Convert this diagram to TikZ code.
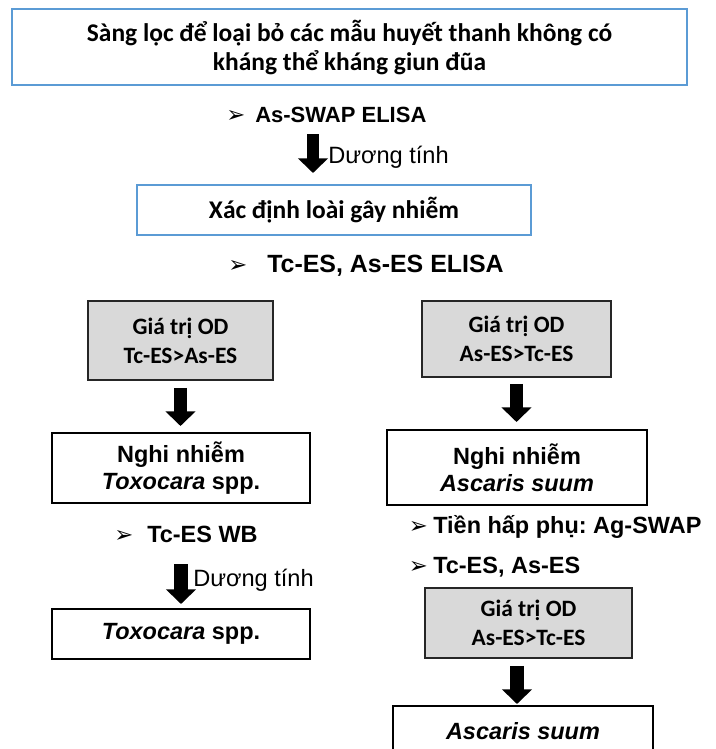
\documentclass[tikz,border=0pt]{standalone}
\usepackage{fontspec}
\setmainfont{Liberation Sans}
\newfontfamily\calfont{Carlito}
\newfontfamily\symfont{DejaVu Sans}
\usetikzlibrary{arrows.meta}
\frenchspacing

\newcommand*{\px}{0.75pt}
\newcommand*{\bul}{{\symfont\fontsize{17}{18}\selectfont ➢}}
\definecolor{boxblue}{RGB}{91,155,213}
\definecolor{boxgray}{RGB}{217,217,217}

\begin{document}
\begin{tikzpicture}
[
	x=\px, y=-\px,
	bluebox/.style={draw=boxblue,line width=1.5pt,inner sep=0pt,align=center,font=\calfont\bfseries\fontsize{19.1}{21.75}\selectfont},
	odbox/.style={draw=black!85,fill=boxgray,line width=1.2pt,inner sep=0pt,align=center,font=\calfont\bfseries\fontsize{17.6}{21.75}\selectfont},
	resbox/.style={draw=black,line width=1.5pt,inner sep=0pt,align=center,font=\bfseries\fontsize{17.6}{20.25}\selectfont},
	method/.style={anchor=base west,inner sep=0pt,font=\bfseries\fontsize{17.6}{20}\selectfont},
	posnote/.style={anchor=base west,inner sep=0pt,font=\fontsize{17.7}{20}\selectfont},
	fatarrow/.style={line width=10pt,-{Triangle[width=22pt,length=11pt]}}
]

	\useasboundingbox (0,0) rectangle (716,749);
	\clip (0,0) rectangle (716,749);

	% screening
	\node[bluebox,minimum width=675*\px,minimum height=76*\px] (screen) at (349.5,47)
		{Sàng lọc để loại bỏ các mẫu huyết thanh không có\\kháng thể kháng giun đũa};
	\node[method,font=\bfseries\fontsize{16.5}{20}\selectfont] (swap) at (255,122)
		{\llap{\bul\hspace{7.5pt}}As-SWAP ELISA};
	\coordinate (a1) at (313,134);
	\draw[fatarrow,line width=8.5pt,shorten >=12*\px] (a1) -- (a1 |- 0,185);
	\node[posnote] (pos1) at (328,163) {Dương tính};

	% species
	\node[bluebox,minimum width=394*\px,minimum height=50*\px] (species) at (334,210)
		{Xác định loài gây nhiễm};
	\node[method,font=\bfseries\fontsize{18.7}{20}\selectfont] (elisa) at (267,272)
		{\llap{\bul\hspace{15pt}}Tc-ES, As-ES ELISA};

	% left branch
	\node[odbox,minimum width=185*\px,minimum height=79*\px] (odtc) at (180.5,340.5)
		{Giá trị OD\\Tc-ES>As-ES};
	\node[resbox,minimum width=258*\px,minimum height=70*\px] (suspt) at (181,468)
		{Nghi nhiễm\\\textit{Toxocara} spp.};
	\draw[fatarrow,shorten <=7*\px,shorten >=6*\px] (odtc.south) -- (odtc.south |- suspt.north);
	\node[method] (wb) at (147,542) {\llap{\bul\hspace{10.5pt}}Tc-ES WB};
	\coordinate (a2) at (181,564);
	\draw[fatarrow,shorten >=5*\px] (a2) -- (a2 |- 0,609);
	\node[posnote] (pos2) at (193,586) {Dương tính};
	\node[resbox,minimum width=258*\px,minimum height=50*\px] (toxo) at (181,634)
		{\textit{Toxocara} spp.};

	% right branch
	\node[odbox,minimum width=189*\px,minimum height=76*\px] (odas) at (516.5,339)
		{Giá trị OD\\As-ES>Tc-ES};
	\node[resbox,minimum width=260*\px,minimum height=75*\px] (suspa) at (517,467.5)
		{Nghi nhiễm\\\textit{Ascaris suum}};
	\draw[fatarrow,shorten <=6*\px,shorten >=7*\px] (odas.south) -- (odas.south |- suspa.north);
	\node[method] (preab) at (433,533) {\llap{\bul\hspace{4pt}}Tiền hấp phụ: Ag-SWAP};
	\node[method] (tcas) at (433,573) {\llap{\bul\hspace{4pt}}Tc-ES, As-ES};
	\node[odbox,minimum width=207*\px,minimum height=70*\px] (odas2) at (528.5,623)
		{Giá trị OD\\As-ES>Tc-ES};
	\node[resbox,minimum width=260*\px,minimum height=50*\px] (ascaris) at (523,731)
		{\textit{Ascaris suum}};
	\coordinate (a3) at (517,0);
	\draw[fatarrow,shorten <=7*\px,shorten >=1*\px] (odas2.south -| a3) -- (a3 |- ascaris.north);

\end{tikzpicture}
\end{document}
